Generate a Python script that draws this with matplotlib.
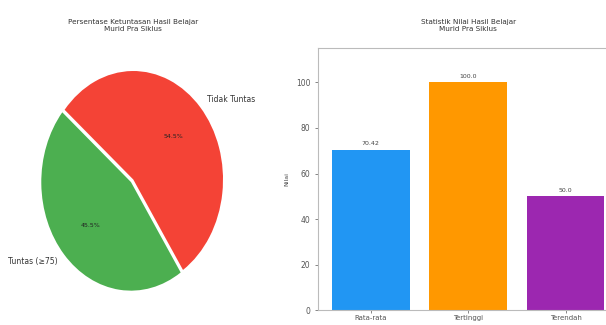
import matplotlib
matplotlib.use("Agg")
import matplotlib.pyplot as plt

# ---------------------------------------------------------------------------
# data
# ---------------------------------------------------------------------------
pie_labels = ["Tuntas (≥75)", "Tidak Tuntas"]
pie_counts = [5, 6]
pie_colors = ["#4CAF50", "#F44336"]

bar_labels = ["Rata-rata", "Tertinggi", "Terendah"]
bar_values = [70.42, 100.0, 50.0]
bar_texts  = ["70.42", "100.0", "50.0"]
bar_colors = ["#2196F3", "#FF9800", "#9C27B0"]

plt.rcParams["font.family"] = ["Liberation Sans Narrow", "DejaVu Sans"]

fig = plt.figure(figsize=(6.06, 3.25), dpi=100)

# ---------------------------------------------------------------------------
# left: pie (squashed, like the reference)
# ---------------------------------------------------------------------------
ax1 = fig.add_axes([0.035, 0.03, 0.37, 0.835])
wedges, txts, autotxts = ax1.pie(pie_counts, labels=pie_labels, colors=pie_colors,
                                 autopct="%1.1f%%", startangle=140,
                                 explode=(0.035, 0),
                                 textprops={"fontsize": 5.5, "color": "#333333"})
for t in autotxts:
    t.set_fontsize(4.5)
    t.set_color("#222222")
ax1.set_aspect("auto")
ax1.set_title("Persentase Ketuntasan Hasil Belajar\nMurid Pra Siklus",
              fontsize=5.2, pad=9, color="#333333")

# ---------------------------------------------------------------------------
# right: bars (axes run past the right edge, as in the reference)
# ---------------------------------------------------------------------------
ax2 = fig.add_axes([0.525, 0.045, 0.495, 0.807])
bars = ax2.bar(bar_labels, bar_values, color=bar_colors, width=0.8)
for b, s in zip(bars, bar_texts):
    ax2.text(b.get_x() + b.get_width() / 2, b.get_height() + 1.5, s,
             ha="center", va="bottom", fontsize=4.5, color="#444444")
ax2.set_ylim(0, 115)
ax2.set_yticks([0, 20, 40, 60, 80, 100])
ax2.set_ylabel("Nilai", fontsize=4.5, labelpad=5, color="#444444")
ax2.tick_params(labelsize=5.5, length=2, width=0.5, colors="#555555")
ax2.tick_params(axis="x", labelsize=5, pad=1)
for s in ax2.spines.values():
    s.set_color("#bbbbbb")
    s.set_linewidth(0.8)
ax2.set_title("Statistik Nilai Hasil Belajar\nMurid Pra Siklus", fontsize=5.2, pad=12,
              color="#333333")

fig.savefig("out.png", dpi=100)
